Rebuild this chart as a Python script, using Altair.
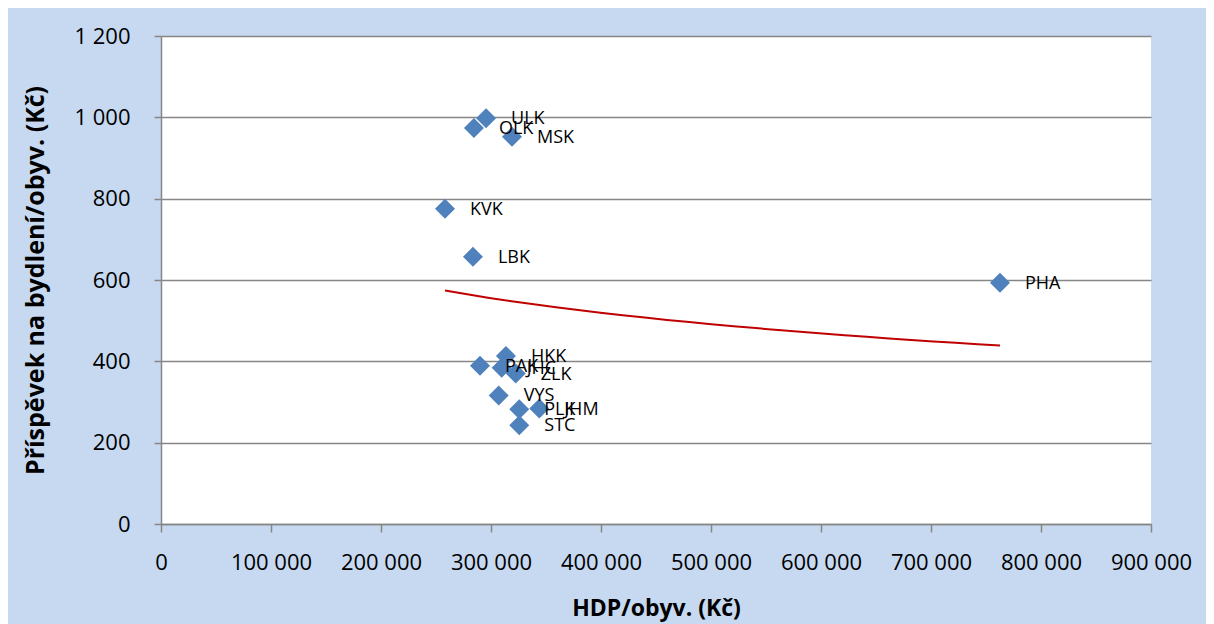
import altair as alt
import pandas as pd

regions = ["PHA", "STC", "JHC", "PLK", "KVK", "ULK", "LBK", "HKK", "PAK", "VYS", "JHM", "OLK", "ZLK", "MSK"]
hdp = [762700, 325700, 309700, 325700, 258200, 295500, 283600, 313600, 290000, 307000, 343900, 284500, 322500, 319100]
prispevek = [593, 243, 384, 282, 775, 998, 657, 413, 389, 316, 284, 974, 370, 952]

x_ticks = [0, 100000, 200000, 300000, 400000, 500000, 600000, 700000, 800000, 900000]
y_ticks = [0, 200, 400, 600, 800, 1000, 1200]

df = pd.DataFrame({"kraj": regions, "hdp": hdp, "prispevek": prispevek})

FONT = "Open Sans"
label_expr = ("datum.value >= 1000 ? format(floor(datum.value/1000),'d') + ' ' + "
              "format(datum.value % 1000, '03d') : format(datum.value, 'd')")

x_enc = alt.X("hdp:Q",
              scale=alt.Scale(domain=[0, 900000], nice=False, zero=True),
              axis=alt.Axis(values=x_ticks, labelExpr=label_expr, grid=False,
                            labelOverlap=False, labelFlush=False,
                            title="HDP/obyv. (Kč)", titleX=495, titleY=84,
                            titleBaseline="middle", titleAlign="center", titleFontSize=23,
                            tickSize=8, labelPadding=20))
y_enc = alt.Y("prispevek:Q",
              scale=alt.Scale(domain=[0, 1200], nice=False),
              axis=alt.Axis(values=y_ticks, labelExpr=label_expr, grid=True,
                            labelOverlap=False, labelFlush=False,
                            title="Příspěvek na bydlení/obyv. (Kč)", titleX=-126, titleY=244,
                            titleAngle=270, titleBaseline="middle", titleAlign="center",
                            titleFontSize=25,
                            tickSize=7, labelPadding=24))

base = alt.Chart(df)

points = base.mark_point(shape="diamond", filled=True, size=400, color="#4f81bd", opacity=1).encode(
    x=x_enc, y=y_enc)

labels = base.mark_text(align="left", baseline="middle", dx=25, dy=1, fontSize=18,
                        font=FONT, color="black").encode(
    x="hdp:Q", y="prispevek:Q", text="kraj:N")

trend = base.transform_regression("hdp", "prispevek", method="log").mark_line(
    color="#c00000", strokeWidth=2).encode(x="hdp:Q", y="prispevek:Q")

chart = alt.layer(points, trend, labels).properties(
    width=990, height=488,
    padding={"left": 153, "top": 28, "right": 55, "bottom": 100},
    autosize=alt.AutoSizeParams(type="none"),
    background="#c6d9f1",
).configure_view(
    fill="white", strokeWidth=0, stroke="transparent"
).configure_axis(
    labelFont=FONT, labelFontSize=22, labelColor="black",
    titleFont=FONT, titleFontWeight="bold", titleColor="black",
    domainColor="#868686", domainWidth=1.5,
    tickColor="#868686", tickWidth=1.5,
    gridColor="#868686", gridWidth=1.5,
)

chart.save("out.html", embed_options={"renderer": "svg", "actions": False})
